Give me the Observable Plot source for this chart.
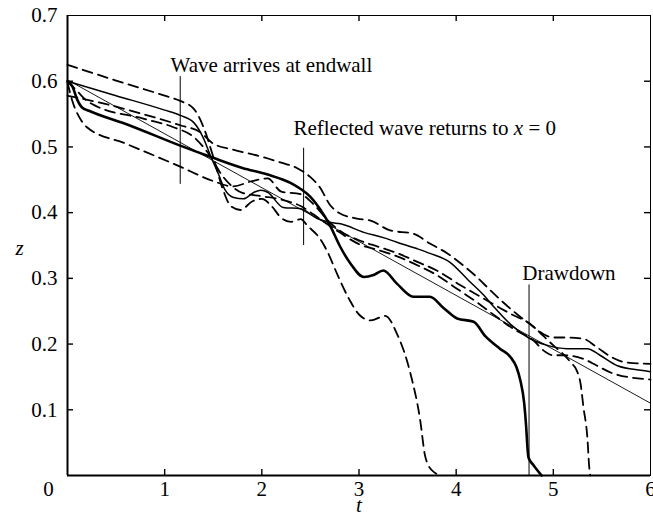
<!DOCTYPE html>
<html><head><meta charset="utf-8">
<script src="https://cdn.jsdelivr.net/npm/d3@7"></script>
<script src="https://cdn.jsdelivr.net/npm/@observablehq/plot@0.6"></script>
<style>body{margin:0;background:#fff}#chart{width:653px;height:516px}</style>
</head><body><div id="chart"></div>
<script>
// Axis ticks
const xTickLabels = [1, 2, 3, 4, 5, 6];
const xInnerTicks = [1, 2, 3, 4, 5];
const yTickLabels = [0.1, 0.2, 0.3, 0.4, 0.5, 0.6, 0.7];
const yInnerTicks = [0.1, 0.2, 0.3, 0.4, 0.5, 0.6];
const cornerLabel = [0];

// Thin straight reference line
const lineAT = [0, 6];
const lineAZ = [0.602, 0.11];

// Thick solid curve
const thickT = [0, 0.05, 0.1, 0.15, 0.22, 0.6, 1.16, 1.47, 1.8, 2.06, 2.3, 2.4, 2.5, 2.6, 2.71, 2.8, 2.91, 3.05, 3.15, 3.25, 3.39, 3.56, 3.73, 3.87, 4.01, 4.18, 4.3, 4.45, 4.56, 4.62, 4.66, 4.7, 4.72, 4.735, 4.745, 4.8, 4.88];
const thickZ = [0.600, 0.592, 0.572, 0.560, 0.555, 0.535, 0.502, 0.485, 0.468, 0.458, 0.445, 0.436, 0.424, 0.405, 0.378, 0.350, 0.323, 0.302, 0.305, 0.312, 0.292, 0.272, 0.272, 0.255, 0.239, 0.234, 0.212, 0.193, 0.180, 0.165, 0.145, 0.110, 0.075, 0.040, 0.027, 0.015, 0];

// Medium solid curve
const solidT = [0, 0.5, 1.0, 1.16, 1.3, 1.4, 1.47, 1.55, 1.62, 1.71, 1.81, 1.92, 1.99, 2.06, 2.22, 2.4, 2.57, 2.71, 2.81, 3.05, 3.25, 3.39, 3.6, 3.73, 3.94, 4.12, 4.28, 4.38, 4.56, 4.74, 4.94, 5.14, 5.35, 5.48, 5.66, 5.9, 6.0];
const solidZ = [0.600, 0.578, 0.556, 0.548, 0.537, 0.513, 0.487, 0.460, 0.435, 0.423, 0.421, 0.431, 0.434, 0.431, 0.408, 0.406, 0.391, 0.385, 0.383, 0.370, 0.362, 0.355, 0.345, 0.338, 0.324, 0.298, 0.275, 0.258, 0.230, 0.210, 0.198, 0.193, 0.193, 0.183, 0.167, 0.160, 0.158];

// Dashed curves
const dashPT = [0, 0.5, 1.0, 1.16, 1.3, 1.4, 1.5, 1.6, 1.68, 1.78, 1.9, 2.0, 2.1, 2.2, 2.3, 2.4, 2.47, 2.6, 2.67, 2.78, 2.9, 3.0, 3.12, 3.27, 3.39, 3.53, 3.63, 3.68, 3.75, 3.85];
const dashPZ = [0.625, 0.601, 0.578, 0.570, 0.558, 0.530, 0.485, 0.435, 0.410, 0.404, 0.417, 0.421, 0.410, 0.392, 0.386, 0.390, 0.380, 0.360, 0.342, 0.305, 0.268, 0.245, 0.236, 0.243, 0.216, 0.155, 0.084, 0.030, 0.008, 0];

const dashQT = [0, 0.4, 0.75, 1.16, 1.37, 1.5, 1.7, 2.0, 2.2, 2.36, 2.5, 2.6, 2.7, 2.8, 2.98, 3.12, 3.32, 3.56, 3.73, 3.91, 4.07, 4.22, 4.35, 4.48, 4.63, 4.78, 4.9, 5.0, 5.15, 5.31, 5.45, 5.6, 5.75, 6.0];
const dashQZ = [0.578, 0.565, 0.551, 0.533, 0.522, 0.505, 0.496, 0.485, 0.476, 0.468, 0.454, 0.438, 0.412, 0.399, 0.391, 0.388, 0.373, 0.368, 0.353, 0.338, 0.320, 0.301, 0.282, 0.264, 0.245, 0.228, 0.215, 0.210, 0.210, 0.208, 0.195, 0.180, 0.172, 0.170];

const dashRT = [0, 0.1, 0.2, 0.27, 0.78, 1.09, 1.3, 1.45, 1.6, 1.8, 2.0, 2.2, 2.4, 2.6, 2.8, 3.0, 3.2, 3.4, 3.6, 3.8, 4.0, 4.2, 4.4, 4.6, 4.8, 4.9, 5.0, 5.1, 5.3, 5.45, 5.62, 6.0];
const dashRZ = [0.600, 0.585, 0.570, 0.564, 0.543, 0.530, 0.515, 0.490, 0.455, 0.430, 0.425, 0.420, 0.410, 0.390, 0.370, 0.352, 0.343, 0.333, 0.320, 0.305, 0.285, 0.265, 0.243, 0.222, 0.205, 0.190, 0.183, 0.183, 0.178, 0.167, 0.155, 0.146];

const dashST = [0, 0.05, 0.13, 0.2, 0.6, 1.16, 1.5, 1.7, 1.9, 2.06, 2.2, 2.4, 2.55, 2.7, 2.85, 3.0, 3.2, 3.4, 3.6, 3.8, 4.04, 4.25, 4.45, 4.6, 4.75, 4.9, 5.0, 5.1, 5.18, 5.24, 5.28, 5.31, 5.35, 5.37, 5.38];
const dashSZ = [0.598, 0.570, 0.543, 0.530, 0.505, 0.470, 0.448, 0.440, 0.448, 0.452, 0.432, 0.428, 0.410, 0.385, 0.368, 0.358, 0.348, 0.338, 0.325, 0.312, 0.290, 0.272, 0.255, 0.243, 0.232, 0.212, 0.198, 0.185, 0.172, 0.160, 0.140, 0.104, 0.058, 0.012, 0];

// Annotations
const noteLabels = ["Wave arrives at endwall", "Reflected wave returns to x = 0", "Drawdown"];
const noteTextT = [1.06, 2.325, 4.68];
const noteTextZ = [0.624, 0.528, 0.308];
const noteLineT = [1.16, 2.43, 4.75];
const noteLineZ1 = [0.443, 0.350, 0];
const noteLineZ2 = [0.607, 0.498, 0.290];

const rows = (ts, zs) => ts.map((t, i) => ({t, z: zs[i]}));
const notes = noteLabels.map((label, i) => ({label, tt: noteTextT[i], tz: noteTextZ[i], lt: noteLineT[i], z1: noteLineZ1[i], z2: noteLineZ2[i]}));

const W = 653, H = 516, mL = 67, mR = 3, mT = 15, mB = 41;
const tDomain = [0, 6], zDomain = [0, 0.7];
const tickPx = 6;
// inward tick lengths expressed in data units of each scale
const tickZ = tickPx * (zDomain[1] - zDomain[0]) / (H - mT - mB);
const tickT = tickPx * (tDomain[1] - tDomain[0]) / (W - mL - mR);
const xTickRows = xInnerTicks.map(t => ({t, lo: zDomain[0], loEnd: zDomain[0] + tickZ, hiStart: zDomain[1] - tickZ, hi: zDomain[1]}));
const yTickRows = yInnerTicks.map(z => ({z, lo: tDomain[0], loEnd: tDomain[0] + tickT, hiStart: tDomain[1] - tickT, hi: tDomain[1]}));

const dashStyle = {x: "t", y: "z", curve: "monotone-x", stroke: "black", strokeWidth: 1.8, strokeDasharray: "10,6"};

const chart = Plot.plot({
  width: W, height: H,
  marginLeft: mL, marginRight: mR, marginTop: mT, marginBottom: mB,
  x: {domain: tDomain, axis: null},
  y: {domain: zDomain, axis: null},
  style: {fontFamily: "'Liberation Serif', 'Times New Roman', serif", fontSize: "21px", background: "white", color: "black", overflow: "visible"},
  marks: [
    Plot.frame({stroke: "black", strokeWidth: 1}),
    Plot.ruleX([tDomain[0]], {stroke: "black", strokeWidth: 2}),
    Plot.ruleY([zDomain[0]], {stroke: "black", strokeWidth: 2}),
    Plot.ruleX(xTickRows, {x: "t", y1: "lo", y2: "loEnd", stroke: "black", strokeWidth: 1.4}),
    Plot.ruleX(xTickRows, {x: "t", y1: "hiStart", y2: "hi", stroke: "black", strokeWidth: 1.4}),
    Plot.ruleY(yTickRows, {y: "z", x1: "lo", x2: "loEnd", stroke: "black", strokeWidth: 1.4}),
    Plot.ruleY(yTickRows, {y: "z", x1: "hiStart", x2: "hi", stroke: "black", strokeWidth: 1.4}),
    Plot.axisX(xTickLabels, {anchor: "bottom", tickSize: 0, tickPadding: 6, fontSize: 21, label: null}),
    Plot.axisX(cornerLabel, {anchor: "bottom", tickSize: 0, tickPadding: 6, dx: -19, fontSize: 21, label: null}),
    Plot.axisY(yTickLabels, {anchor: "left", tickSize: 0, tickPadding: 10, fontSize: 21, tickFormat: d => d.toFixed(1), label: null}),
    Plot.text(["z"], {frameAnchor: "left", dx: -52, dy: 3, fontStyle: "italic", fontSize: 21}),
    Plot.text(["t"], {frameAnchor: "bottom", dy: 36, fontStyle: "italic", fontSize: 21}),
    Plot.line(rows(lineAT, lineAZ), {x: "t", y: "z", stroke: "black", strokeWidth: 0.9}),
    Plot.line(rows(dashPT, dashPZ), dashStyle),
    Plot.line(rows(dashQT, dashQZ), dashStyle),
    Plot.line(rows(dashRT, dashRZ), dashStyle),
    Plot.line(rows(dashST, dashSZ), dashStyle),
    Plot.line(rows(solidT, solidZ), {x: "t", y: "z", curve: "monotone-x", stroke: "black", strokeWidth: 1.5}),
    Plot.line(rows(thickT, thickZ), {x: "t", y: "z", curve: "monotone-x", stroke: "black", strokeWidth: 2.6}),
    Plot.ruleX(notes, {x: "lt", y1: "z1", y2: "z2", stroke: "black", strokeWidth: 1}),
    Plot.text(notes, {x: "tt", y: "tz", text: "label", textAnchor: "start", fontSize: 21, fill: "black"})
  ]
});
document.getElementById("chart").appendChild(chart);
// italic x in annotation
chart.querySelectorAll("text").forEach(el => {
  if (el.textContent === "Reflected wave returns to x = 0") {
    el.textContent = "";
    const ns = "http://www.w3.org/2000/svg";
    const a = document.createElementNS(ns, "tspan"); a.textContent = "Reflected wave returns to ";
    const b = document.createElementNS(ns, "tspan"); b.textContent = "x"; b.setAttribute("font-style", "italic");
    const c = document.createElementNS(ns, "tspan"); c.textContent = " = 0";
    el.append(a, b, c);
  }
});
</script>
</body></html>
